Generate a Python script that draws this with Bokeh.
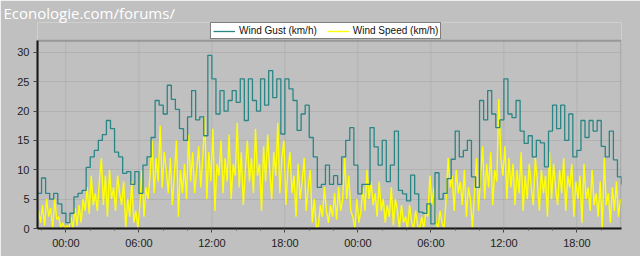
import numpy as np
from bokeh.plotting import figure
from bokeh.models import Range1d, FixedTicker, Legend, LegendItem, BoxAnnotation
from bokeh.embed import file_html
from bokeh.resources import INLINE

# Wind gust (km/h), 20-minute samples starting 21:40 the day before
gust = [6, 8.6, 6, 5, 6, 4.2, 2.6, 1, 2.6, 5.4, 6, 6.5, 10.4, 12.2, 13.3, 15,
        16, 18.4, 17, 13, 12.2, 9.4, 9.7, 7.5, 9.7, 6, 10.8, 12.2, 15.5, 21.8,
        21, 19.5, 24.4, 22, 20.3, 17, 15, 19, 23.5, 18.5, 19, 15.8, 29.5, 25.5,
        19.5, 23.5, 20, 21.8, 23.5, 21.5, 25.5, 18.4, 25.5, 21.8, 20, 25.5, 21,
        26.9, 22.3, 25.5, 16.1, 25.5, 23.8, 21.8, 16.7, 19.5, 21, 15.5, 12.2, 7,
        7.5, 10.8, 7.5, 9, 7.5, 12.2, 15, 17.2, 10.8, 5.9, 7.5, 7.5, 17.2, 13.9,
        10.8, 15, 8, 10.8, 16.6, 6.5, 5.9, 4.7, 9.1, 5.9, 2.8, 2.6, 4.2, 0.8,
        9.5, 5, 6, 8.5, 11.8, 16.6, 12.2, 13.3, 15, 8.8, 7, 21.8, 18.5, 23.5,
        19.5, 17.2, 18.5, 25.5, 19.5, 18.9, 21.8, 16.6, 14.5, 15.8, 12.2, 15,
        14.6, 10.5, 16.6, 21, 17, 21, 15, 19.5, 12.2, 13.3, 18.4, 15.5, 18.4,
        16.6, 18.4, 14, 12.2, 16.6, 11.7, 8.8, 7.5]

# Wind speed (km/h), 10-minute samples
speed = [3, 1, 4, 0.5, 5, 2, 3.5, 0, 5, 1.5, 2,
         0, 1, 0, 0.5, 0, 2, 0,
         3.5, 0.5, 4, 1, 5,
         3, 7, 2.5, 9, 4, 6, 3,
         8, 12, 4, 9, 2, 10, 5, 7, 3, 9, 6, 4, 8,
         0, 5, 2, 8, 1, 3, 0,
         4, 10, 2, 7, 5,
         9, 15, 6, 12, 8, 17.5, 7, 13, 10, 6,
         12, 4, 9, 15, 2, 10, 6,
         11, 5, 16, 8, 13, 6, 10, 14, 7, 12,
         19, 5, 13, 8, 17, 3, 11, 9, 15, 6, 12, 8,
         16, 5, 11, 9, 18, 7, 13, 4, 10, 15, 8, 12, 6, 17, 9,
         11, 3, 14, 8, 16, 10, 5, 13, 9, 18, 6, 12, 15, 4, 10,
         13, 6, 9, 2, 11, 5, 8, 12, 3, 7,
         10, 1, 5, 0, 0.5, 4, 2, 7, 3,
         1, 4, 2, 6, 1.5, 7, 3, 5,
         12, 5, 9, 3,
         2, 0, 5, 1, 3,
         7, 3, 10, 5, 8, 4,
         6, 2, 8, 3, 5, 1, 4,
         2, 7, 0.5, 5, 3, 0, 4, 1,
         2, 0, 4, 1, 0, 3, 0.5,
         0, 2, 0, 3,
         2, 9, 4, 7, 1,
         0, 3, 1, 0,
         5, 12, 7, 9, 3, 10, 6,
         8, 4, 10, 2, 7, 5, 0,
         6, 12, 3, 9, 14, 5, 11, 7, 13, 4, 10, 8,
         22, 12,
         9, 14, 5, 12, 7, 11, 4, 10,
         6, 13, 3, 9, 5, 11, 7, 4, 12, 8, 3, 10, 6,
         9, 2, 13, 5, 11, 7, 4,
         10, 6, 12, 3, 9, 7, 11, 2, 8, 5,
         9, 1, 11, 5, 7, 3, 10, 4, 6, 2,
         8, 0, 12, 4, 6, 1,
         7, 3, 8, 2, 5]

hour_ticks = [0, 6, 12, 18, 24, 30, 36, 42]
hour_labels = ["00:00", "06:00", "12:00", "18:00", "00:00", "06:00", "12:00", "18:00"]
y_ticks = [0, 5, 10, 15, 20, 25, 30]
start_hour = -2 - 1 / 3
end_hour = start_hour + 48
y_top = 32.0          # top edge of the chart box
y_view_top = 35.09    # frame reaches above the box to hold the legend

t_gust = start_hour + np.arange(len(gust)) / 3.0
t_speed = start_hour + 1 / 12 + np.arange(len(speed)) / 6.0

BG = "#c0c0c0"
p = figure(width=640, height=256, output_backend="svg", toolbar_location=None,
           x_range=Range1d(start_hour, end_hour), y_range=Range1d(0, y_view_top),
           background_fill_color=BG, border_fill_color=BG,
           min_border_left=37, min_border_right=19, min_border_top=20,
           min_border_bottom=28,
           title="Econologie.com/forums/")

p.title.text_color = "#ffffff"
p.title.text_font = "Open Sans"
p.title.text_font_size = "15px"
p.title.text_font_style = "normal"
p.title.align = "left"
p.title.offset = -34
p.title.standoff = 0

p.outline_line_color = None

p.xaxis.ticker = FixedTicker(ticks=hour_ticks,
                             minor_ticks=list(range(-2, 46, 2)))
p.xaxis.major_label_overrides = {h: l for h, l in zip(hour_ticks, hour_labels)}
p.yaxis.ticker = FixedTicker(ticks=y_ticks, minor_ticks=[])
p.yaxis.bounds = (0, y_top)
for ax in (p.xaxis, p.yaxis):
    ax.axis_line_color = "#111111"
    ax.axis_line_width = 2
    ax.major_tick_line_color = "#444444"
    ax.minor_tick_line_color = "#555555"
    ax.major_tick_in = 0
    ax.major_tick_out = 4
    ax.minor_tick_in = 0
    ax.minor_tick_out = 2
    ax.major_label_text_font = "Liberation Sans"
    ax.major_label_text_font_size = "11px"
    ax.major_label_text_color = "#222222"
    ax.major_label_standoff = 4

p.ygrid.grid_line_color = "#a4a4a4"
p.ygrid.grid_line_dash = "1 1"
p.xgrid.visible = False
p.segment(x0=hour_ticks, y0=[0] * len(hour_ticks), x1=hour_ticks,
          y1=[y_top] * len(hour_ticks), line_color="#a4a4a4", line_dash="1 1",
          line_width=1)

r_speed = p.line(t_speed, speed, line_color="#ffff00", line_width=1.4)
r_gust = p.step(t_gust, gust, mode="after", line_color="#2a8585", line_width=1.3)

box = BoxAnnotation(left=start_hour, right=end_hour, bottom=0, top=y_top,
                    fill_alpha=0, line_color="#3a3a3a", line_width=2)
p.add_layout(box)

legend = Legend(items=[LegendItem(label="Wind Gust (km/h)", renderers=[r_gust]),
                       LegendItem(label="Wind Speed (km/h)", renderers=[r_speed])],
                orientation="horizontal", location=(173, 189),
                border_line_color="#000000", border_line_width=1,
                background_fill_color="#ffffff", background_fill_alpha=1,
                label_text_font="Liberation Sans", label_text_font_size="10px",
                label_text_color="#111111",
                glyph_width=22, glyph_height=10, label_height=10,
                padding=2, spacing=10, margin=0, label_standoff=4)
p.add_layout(legend, "center")

open("out.html", "w").write(file_html(p, INLINE))
